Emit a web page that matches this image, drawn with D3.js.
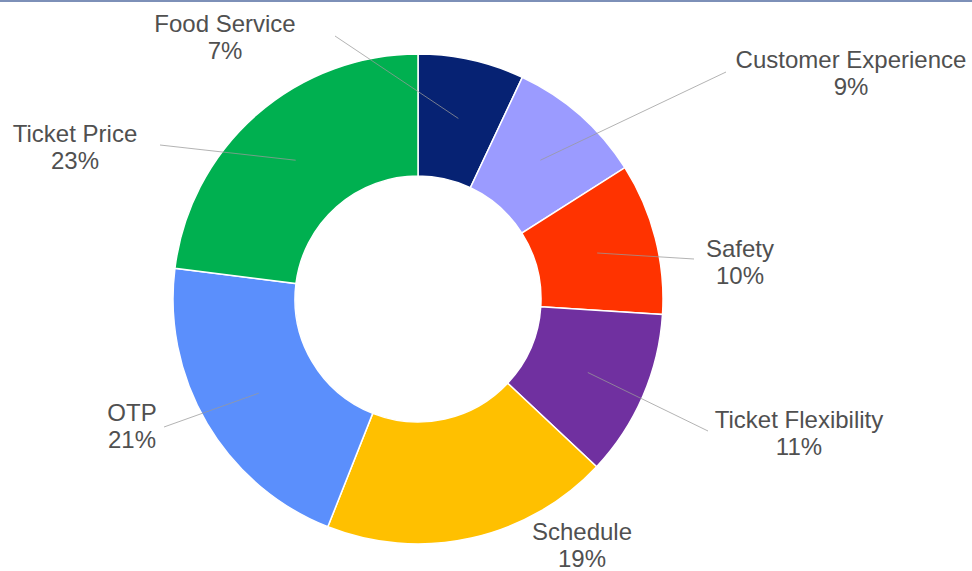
<!DOCTYPE html>
<html lang="en">
<head>
    <meta charset="UTF-8">
    <title>Donut</title>
    <script src="https://d3js.org/d3.v7.min.js"></script>
    <style>
      body { margin: 0; background: #fff; }
      svg { display: block; }
    </style>
</head>
<body>
    <svg id="chart" width="972" height="571"></svg>

    <script>
        // data
        var categories = ["Food Service", "Customer Experience", "Safety", "Ticket Flexibility", "Schedule", "OTP", "Ticket Price"];
        var shares = [7, 9, 10, 11, 19, 21, 23];
        var colors = ["#062273", "#9b9bff", "#ff3300", "#7030a0", "#ffc000", "#5b8ffc", "#00b050"];

        // label: text centre x, first baseline y, leader end x, y (same order as categories)
        var labelAt = [[225, 32, 335, 36], [851, 68, 726, 72], [740, 257, 694, 259], [799, 428, 708, 431],
                       [582, 540, null, null], [132, 421, 164, 427], [75, 142, 160, 145]];

        var svg = d3.select("svg"),
            width = +svg.attr("width"),
            height = +svg.attr("height");

        // top rule
        svg.append("rect").attr("x", 0).attr("y", 0).attr("width", width).attr("height", 2)
          .attr("fill", "#7d90b8");

        var cx = 418, cy = 299, outer = 245, inner = 123;
        var g = svg.append("g").attr("transform", `translate(${cx},${cy})`);

        var pie = d3.pie().sort(null).value(d => d.v);
        var arcs = pie(categories.map((c, i) => ({ name: c, v: shares[i], i: i })));
        var arc = d3.arc().innerRadius(inner).outerRadius(outer);
        var mid = d3.arc().innerRadius(185).outerRadius(185);

        g.selectAll("path.slice")
          .data(arcs)
          .enter()
          .append("path")
            .attr("class", "slice")
            .attr("d", arc)
            .attr("fill", d => colors[d.data.i])
            .attr("stroke", "#fff")
            .attr("stroke-width", 1.5);

        // leader lines
        arcs.forEach(function (d) {
          var L = labelAt[d.data.i];
          if (L[2] == null) return;
          var p = mid.centroid(d);
          svg.append("line")
            .attr("x1", cx + p[0]).attr("y1", cy + p[1])
            .attr("x2", L[2]).attr("y2", L[3])
            .attr("stroke", "#9a9a9a")
            .attr("stroke-opacity", 0.75)
            .attr("stroke-width", 1);
        });

        // labels
        arcs.forEach(function (d) {
          var L = labelAt[d.data.i];
          var t = svg.append("text")
            .attr("x", L[0]).attr("y", L[1])
            .attr("text-anchor", "middle")
            .attr("font-family", "Liberation Sans, Arial, sans-serif")
            .attr("font-size", 24)
            .attr("fill", "#505050");
          t.append("tspan").attr("x", L[0]).text(d.data.name);
          t.append("tspan").attr("x", L[0]).attr("dy", 27).text(d.data.v + "%");
        });
    </script>
</body>
</html>
